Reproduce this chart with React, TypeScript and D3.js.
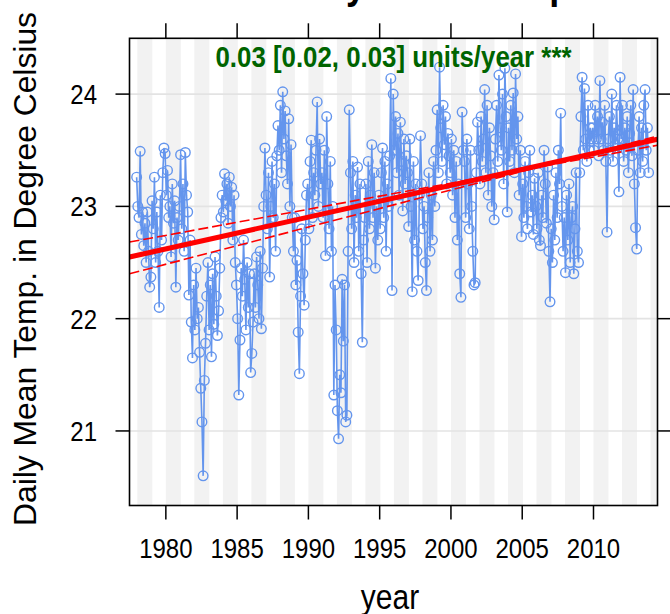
import React from "react";
import * as d3 from "d3";

// ---------- data ----------
const years = [
  1978, 1979, 1980, 1981, 1982, 1983, 1984, 1985, 1986, 1987, 1988, 1989,
  1990, 1991, 1992, 1993, 1994, 1995, 1996, 1997, 1998, 1999, 2000, 2001,
  2002, 2003, 2004, 2005, 2006, 2007, 2008, 2009, 2010, 2011, 2012, 2013,
];

// monthly mean temperature (Jan..Dec), one row per year
const temps: number[][] = [
  [23.26, 23.0, 22.9, 23.49, 22.75, 22.95, 22.65, 22.85, 22.5, 22.95, 22.6, 22.28], // 1978
  [22.37, 23.05, 22.8, 23.26, 22.5, 22.95, 22.6, 22.1, 23.1, 22.7, 23.3, 23.52], // 1979
  [23.47, 23.1, 23.32, 22.9, 23.0, 22.55, 23.2, 22.85, 23.05, 22.28, 22.9, 22.7], // 1980
  [23.0, 23.46, 22.8, 23.2, 22.6, 23.48, 23.1, 22.95, 22.21, 22.7, 21.97, 21.65], // 1981
  [22.3, 21.9, 22.45, 22.0, 22.1, 21.7, 21.38, 21.08, 20.6, 21.45, 21.78, 22.2], // 1982
  [22.5, 21.9, 22.3, 21.66, 22.4, 21.95, 22.55, 22.2, 21.85, 22.07, 22.45, 22.9], // 1983
  [23.1, 22.95, 23.29, 23.05, 23.2, 22.85, 23.26, 23.0, 23.17, 22.7, 23.1, 22.5], // 1984
  [22.3, 22.0, 21.32, 21.81, 22.45, 22.2, 22.7, 22.35, 21.9, 22.5, 22.1, 22.4], // 1985
  [21.52, 21.69, 21.97, 22.4, 22.1, 22.55, 22.3, 22.0, 22.6, 21.91, 22.45, 23.0], // 1986
  [23.52, 23.1, 22.8, 23.3, 22.37, 23.0, 23.4, 22.9, 23.2, 22.6, 23.45, 23.72], // 1987
  [23.5, 23.9, 23.3, 24.02, 23.6, 23.85, 23.45, 23.2, 23.78, 23.0, 23.55, 22.9], // 1988
  [22.6, 22.9, 22.3, 22.52, 21.88, 21.51, 22.2, 22.8, 22.4, 22.12, 22.7, 23.1], // 1989
  [23.2, 22.8, 23.4, 23.59, 22.9, 23.3, 23.1, 23.5, 23.93, 23.0, 23.6, 23.2], // 1990
  [23.3, 22.9, 23.5, 22.56, 23.8, 23.2, 22.8, 23.4, 22.6, 23.0, 21.32, 22.3], // 1991
  [21.9, 21.18, 20.93, 21.5, 21.34, 22.35, 21.8, 22.3, 21.08, 21.14, 22.6, 23.86], // 1992
  [23.3, 22.8, 23.4, 22.5, 23.1, 22.9, 23.35, 22.6, 23.2, 22.4, 21.79, 22.7], // 1993
  [22.9, 23.2, 22.5, 23.4, 22.8, 23.1, 23.55, 22.9, 23.3, 22.45, 23.0, 22.7], // 1994
  [23.1, 22.8, 23.3, 23.52, 22.9, 23.4, 22.6, 23.2, 23.0, 23.45, 24.14, 22.25], // 1995
  [24.0, 23.5, 23.8, 23.3, 23.65, 23.1, 23.75, 23.4, 22.96, 23.6, 23.2, 23.45], // 1996
  [23.3, 22.82, 23.6, 23.0, 22.24, 23.4, 22.7, 23.2, 22.6, 22.34, 23.1, 23.63], // 1997
  [23.2, 22.8, 23.0, 22.5, 22.25, 22.9, 23.3, 22.6, 23.1, 22.7, 23.4, 23.0], // 1998
  [23.5, 23.86, 23.3, 24.24, 23.7, 23.4, 23.9, 23.55, 23.8, 23.2, 23.65, 23.45], // 1999
  [23.3, 23.6, 23.1, 23.5, 22.9, 23.4, 22.7, 23.2, 22.4, 22.19, 23.84, 23.5], // 2000
  [23.4, 22.9, 23.6, 23.2, 22.8, 23.5, 23.0, 22.6, 22.3, 22.32, 23.3, 23.75], // 2001
  [23.5, 23.2, 23.8, 23.4, 23.6, 24.04, 23.3, 23.9, 23.1, 23.7, 23.45, 23.0], // 2002
  [23.3, 22.88, 23.6, 23.9, 23.4, 24.17, 23.7, 23.5, 24.0, 23.2, 24.23, 23.8], // 2003
  [22.95, 23.7, 23.4, 23.9, 23.5, 24.01, 23.3, 24.18, 23.6, 23.8, 23.1, 23.5], // 2004
  [22.73, 23.2, 22.9, 23.4, 23.0, 22.8, 23.3, 23.5, 22.95, 23.1, 22.75, 23.25], // 2005
  [23.0, 22.8, 23.3, 22.7, 22.65, 23.1, 22.9, 23.5, 23.2, 22.85, 23.35, 22.6], // 2006
  [22.15, 22.8, 22.5, 23.1, 22.7, 23.3, 22.9, 23.5, 23.2, 23.83, 23.0, 22.6], // 2007
  [22.9, 22.41, 23.1, 22.7, 23.2, 22.5, 22.9, 23.0, 22.4, 22.8, 23.3, 22.6], // 2008
  [22.5, 23.3, 23.8, 24.15, 23.5, 24.05, 23.6, 23.4, 23.9, 23.5, 23.7, 23.6], // 2009
  [23.7, 23.5, 23.9, 23.6, 23.8, 23.45, 24.12, 23.6, 23.75, 23.5, 23.9, 23.4], // 2010
  [22.77, 23.6, 23.8, 23.5, 24.0, 23.4, 23.7, 23.55, 23.9, 23.6, 23.13, 24.15], // 2011
  [23.6, 23.9, 23.4, 23.7, 23.5, 23.8, 23.3, 23.65, 23.9, 23.45, 24.04, 23.2], // 2012
  [22.81, 22.62, 23.5, 23.8, 23.3, 23.7, 23.4, 23.9, 24.04, 23.5, 23.7, 23.3], // 2013
];

// Theil-Sen trend: central estimate, lower and upper slope lines (units/year)
const trendKinds = ["trend", "lower", "upper"];
const trendSlopes = [0.02834, 0.02327, 0.03309];
const trendAt1995 = [23.046, 23.091, 22.981];
const trendLabel = "0.03 [0.02, 0.03] units/year ***";

const xTicks = [1980, 1985, 1990, 1995, 2000, 2005, 2010];
const yTicks = [21, 22, 23, 24];
const shadeYears = [1976, 1978, 1980, 1982, 1984, 1986, 1988, 1990, 1992, 1994, 1996, 1998, 2000, 2002, 2004, 2006, 2008, 2010, 2012, 2014];

const titleText = "Daily Mean Temperature";
const xLabel = "year";
const yLabel = "Daily Mean Temp. in Degree Celsius";

// ---------- layout ----------
const W = 670;
const H = 614;
const P = { left: 129.5, right: 657.5, top: 38.3, bottom: 505.5 };
const FONT = "'Liberation Sans', Arial, sans-serif";
const BLUE = "#6495ED";

export default function App() {
  const x = d3.scaleLinear().domain([1977.45, 2014.49]).range([P.left, P.right]);
  const y = d3.scaleLinear().domain([20.336, 24.497]).range([P.bottom, P.top]);

  const points: { t: number; v: number }[] = [];
  years.forEach((yr, i) => {
    temps[i].forEach((v, m) => points.push({ t: yr + (m - 0.6) / 12, v }));
  });

  const line = d3
    .line<{ t: number; v: number }>()
    .x((d) => x(d.t))
    .y((d) => y(d.v));

  const [d0, d1] = x.domain();
  const trendLines = trendKinds.map((k, i) => ({
    kind: k,
    x1: x(d0),
    y1: y(trendAt1995[i] + trendSlopes[i] * (d0 - 1995)),
    x2: x(d1),
    y2: y(trendAt1995[i] + trendSlopes[i] * (d1 - 1995)),
  }));

  const sy = 1.17;

  return (
    <svg
      width={W}
      height={H}
      style={{ position: "absolute", left: 0, top: 0, background: "#fff" }}
    >
      <defs>
        <clipPath id="panelClip">
          <rect x={P.left} y={P.top} width={P.right - P.left} height={P.bottom - P.top} />
        </clipPath>
      </defs>

      {/* title, mostly cut off above the top */}
      <text
        transform={`translate(280,-2) scale(1,${sy})`}
        fontFamily={FONT}
        fontWeight="bold"
        fontSize={36}
        fill="#000"
      >
        {titleText}
      </text>

      <g clipPath="url(#panelClip)">
        <rect x={P.left} y={P.top} width={P.right - P.left} height={P.bottom - P.top} fill="#fff" />
        {shadeYears.map((yr) => (
          <rect
            key={yr}
            x={x(yr)}
            y={P.top}
            width={x(yr + 1.05) - x(yr)}
            height={P.bottom - P.top}
            fill="#F2F2F2"
          />
        ))}
        {yTicks.map((t) => (
          <line key={t} x1={P.left} x2={P.right} y1={y(t)} y2={y(t)} stroke="#E3E3E3" strokeWidth={1.6} />
        ))}
        <path d={line(points) || ""} fill="none" stroke={BLUE} strokeWidth={1.6} />
        {points.map((p, i) => (
          <circle key={i} cx={x(p.t)} cy={y(p.v)} r={4.8} fill="none" stroke={BLUE} strokeWidth={1.4} />
        ))}
        {trendLines.map((l) => (
          <line
            key={l.kind}
            x1={l.x1}
            y1={l.y1}
            x2={l.x2}
            y2={l.y2}
            stroke="#FF0000"
            strokeWidth={l.kind === "trend" ? 5 : 1.6}
            strokeDasharray={l.kind === "trend" ? undefined : "10,4"}
          />
        ))}
        <text
          transform={`translate(${(P.left + P.right) / 2},67) scale(1,1.1)`}
          textAnchor="middle"
          fontFamily={FONT}
          fontWeight="bold"
          fontSize={26}
          fill="#006400"
          textLength={356}
          lengthAdjust="spacingAndGlyphs"
        >
          {trendLabel}
        </text>
      </g>

      {/* panel border */}
      <rect
        x={P.left}
        y={P.top}
        width={P.right - P.left}
        height={P.bottom - P.top}
        fill="none"
        stroke="#000"
        strokeWidth={1.6}
      />

      {/* ticks */}
      {xTicks.map((t) => (
        <g key={t}>
          <line x1={x(t)} x2={x(t)} y1={P.bottom} y2={P.bottom + 14} stroke="#000" strokeWidth={1.5} />
          <line x1={x(t)} x2={x(t)} y1={P.top} y2={P.top - 15} stroke="#000" strokeWidth={1.5} />
          <text
            transform={`translate(${x(t)},558) scale(1,${sy})`}
            textAnchor="middle"
            fontFamily={FONT}
            fontSize={24}
            fill="#000"
          >
            {t}
          </text>
        </g>
      ))}
      {yTicks.map((t) => (
        <g key={t}>
          <line x1={P.left - 14} x2={P.left} y1={y(t)} y2={y(t)} stroke="#000" strokeWidth={1.5} />
          <line x1={P.right} x2={P.right + 14} y1={y(t)} y2={y(t)} stroke="#000" strokeWidth={1.5} />
          <text
            transform={`translate(97,${y(t) + 10}) scale(1,${sy})`}
            textAnchor="end"
            fontFamily={FONT}
            fontSize={24}
            fill="#000"
          >
            {t}
          </text>
        </g>
      ))}

      {/* axis titles */}
      <text
        transform={`translate(390,609) scale(1,1.15)`}
        textAnchor="middle"
        fontFamily={FONT}
        fontSize={30}
        fill="#000"
      >
        {xLabel}
      </text>
      <text
        transform={`translate(36,269) rotate(-90)`}
        textAnchor="middle"
        fontFamily={FONT}
        fontSize={31}
        fill="#000"
        textLength={514}
        lengthAdjust="spacingAndGlyphs"
      >
        {yLabel}
      </text>
    </svg>
  );
}
